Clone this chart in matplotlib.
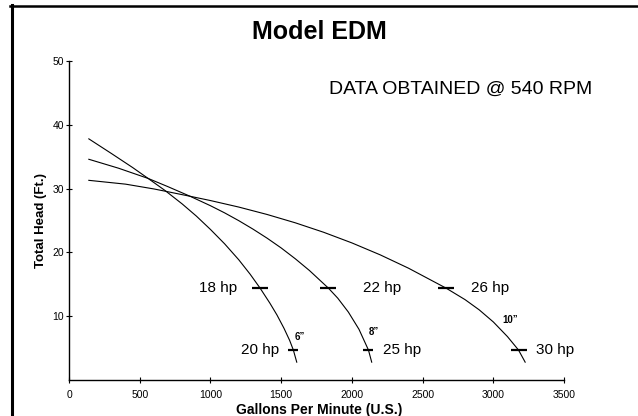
import matplotlib
matplotlib.use("Agg")
import matplotlib.pyplot as plt
from matplotlib.lines import Line2D

plt.rcParams['font.family'] = ['Liberation Sans', 'DejaVu Sans']

# impeller curves: gallons per minute vs total head (ft)
gpm_6in = [140, 300, 450, 559, 679, 800, 900, 1000, 1100, 1200, 1280, 1351,
           1420, 1470, 1520, 1560, 1586, 1610]
head_6in = [37.8, 35.5, 33.3, 31.6, 29.7, 27.6, 25.7, 23.6, 21.35, 18.85, 16.6, 14.4,
            12.05, 10.2, 8.1, 6.2, 4.7, 2.8]

gpm_8in = [140, 350, 559, 700, 856, 1000, 1100, 1200, 1300, 1400, 1500, 1600, 1700,
           1834, 1900, 1975, 2050, 2117, 2140]
head_8in = [34.6, 33.2, 31.6, 30.3, 28.8, 27.32, 26.2, 24.98, 23.66, 22.24, 20.7, 19.0, 17.16,
            14.4, 12.83, 10.65, 7.95, 4.7, 2.8]

gpm_10in = [140, 400, 600, 679, 856, 1000, 1200, 1400, 1600, 1800, 2000, 2200, 2400,
            2666, 2800, 2900, 3000, 3100, 3178, 3225]
head_10in = [31.3, 30.7, 29.95, 29.6, 28.8, 28.13, 27.11, 25.95, 24.64, 23.16, 21.49, 19.62, 17.53,
             14.4, 12.6, 11.0, 9.1, 6.8, 4.7, 2.8]

# horsepower marks on the curves
hp_gpm_top = [1351, 1834, 2666]
hp_head_top = [14.4, 14.4, 14.4]
hp_labels_top = ['18 hp', '22 hp', '26 hp']
hp_label_gpm_top = [1056, 2211, 2977]

hp_gpm_bot = [1586, 2117, 3178]
hp_head_bot = [4.7, 4.7, 4.7]
hp_labels_bot = ['20 hp', '25 hp', '30 hp']
hp_label_gpm_bot = [1351, 2353, 3437]

size_labels = ['6\u201d', '8\u201d', '10\u201d']
size_label_gpm = [1634, 2152, 3119]
size_label_head = [6.7, 7.6, 9.4]

fig = plt.figure(figsize=(6.38, 4.16), dpi=100)
ax = fig.add_axes([0.1082, 0.0865, 0.7759, 0.7668])

for x, y in ((gpm_6in, head_6in), (gpm_8in, head_8in), (gpm_10in, head_10in)):
    ax.plot(x, y, color='black', lw=0.8)

# hp dashes
ax.plot(hp_gpm_top, hp_head_top, ls='none', marker='_', ms=11, mew=1.6, color='black')
ax.plot(hp_gpm_bot[:2], hp_head_bot[:2], ls='none', marker='_', ms=7.5, mew=1.6, color='black')
ax.plot(hp_gpm_bot[2:], hp_head_bot[2:], ls='none', marker='_', ms=11, mew=1.6, color='black')

for lab, x, y in zip(hp_labels_top, hp_label_gpm_top, hp_head_top):
    ax.text(x, y, lab, ha='center', va='center', fontsize=11)
for lab, x, y in zip(hp_labels_bot, hp_label_gpm_bot, hp_head_bot):
    ax.text(x, y, lab, ha='center', va='center', fontsize=11)
for lab, x, y in zip(size_labels, size_label_gpm, size_label_head):
    ax.text(x, y, lab, ha='center', va='center', fontsize=7, fontweight='bold')

ax.text(2770, 45.5, 'DATA OBTAINED @ 540 RPM', ha='center', va='center', fontsize=14)

ax.set_xlim(0, 3500)
ax.set_ylim(0, 50)
ax.set_xticks(range(0, 3501, 500))
ax.set_yticks([10, 20, 30, 40, 50])
ax.spines['top'].set_visible(False)
ax.spines['right'].set_visible(False)
ax.spines['left'].set_linewidth(1.0)
ax.spines['bottom'].set_linewidth(1.0)
ax.tick_params(axis='both', direction='inout', length=4, width=0.8, labelsize=7.5)
ax.tick_params(axis='x', pad=5)
ax.tick_params(axis='y', pad=1.5)

ax.set_ylabel('Total Head (Ft.)', fontsize=9.5, fontweight='bold', labelpad=4)
fig.text(0.5, 1 - 403 / 416, 'Gallons Per Minute (U.S.)', ha='center', va='top',
         fontsize=10, fontweight='bold')

fig.text(0.5, 1 - 32 / 416, 'Model EDM', ha='center', va='center',
         fontsize=18, fontweight='bold')

# scanned page frame, left and top edges only
fig.add_artist(Line2D([11.5 / 638, 11.5 / 638], [0, 1 - 5 / 416], color='black', lw=2.2))
fig.add_artist(Line2D([10 / 638, 1], [1 - 6.3 / 416, 1 - 6.3 / 416], color='black', lw=1.8))

fig.savefig('out.png', dpi=100)
